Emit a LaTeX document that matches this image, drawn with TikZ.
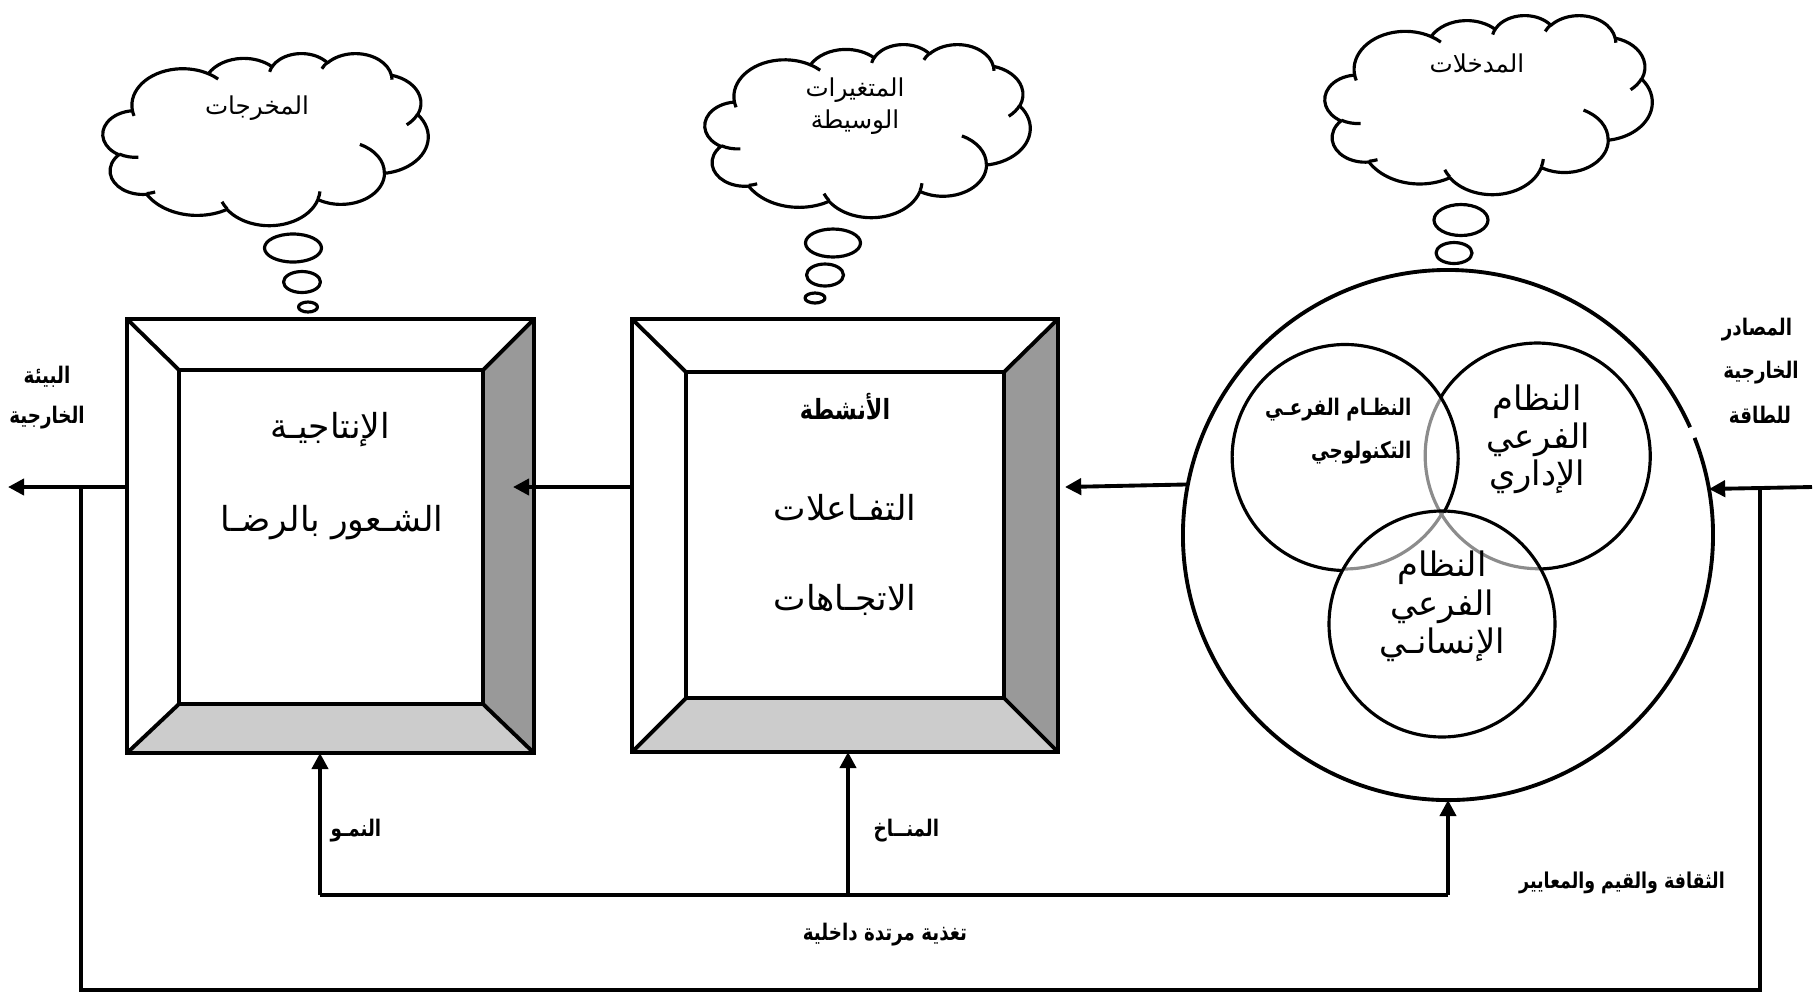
\documentclass[tikz,border=0pt]{standalone}
\usepackage{fontspec}
\usetikzlibrary{arrows.meta}
\TeXXeTstate=1
\newfontfamily\arabicfont[Script=Arabic]{DejaVu Sans}
\newfontfamily\arabicnarrow[Script=Arabic,FakeStretch=0.8]{DejaVu Sans}
\definecolor{bevdark}{RGB}{153,153,153}
\definecolor{bevlight}{RGB}{204,204,204}
\definecolor{venngray}{RGB}{140,140,140}

% one arc of a cloud outline: x radius, y radius, start angle, sweep
% (angles measured on screen, y pointing down)
\newcommand\carc[4]{arc[x radius=#1,y radius=#2,start angle={pa(#1,#2,#3)},end angle={pa(#1,#2,#3+#4)}]}

% cloud outline with its inner puff marks: left, top, width, height (px)
\newcommand\cloudat[4]{%
  \pgfmathsetmacro\cldx{#3/432*0.1}%
  \pgfmathsetmacro\cldy{#4/432*0.1}%
  \begin{scope}[shift={(#1,-#2)}, x=\cldx mm, y=-\cldy mm]
    \draw[cloudline, fill=white] (39.00,143.70)
      \carc{67.53}{91.90}{-190.4875}{123.7805}
      \carc{53.33}{72.67}{-144.1024}{89.9452}
      \carc{43.65}{59.45}{-145.8079}{99.7230}
      \carc{48.57}{65.95}{-130.9861}{117.2417}
      \carc{53.33}{72.73}{-78.7089}{109.0269}
      \carc{67.75}{92.20}{-46.2673}{130.2690}
      \carc{57.85}{78.67}{0.6250}{114.0333}
      \carc{67.52}{92.15}{22.4516}{115.1726}
      \carc{77.20}{105.43}{66.2426}{75.7110}
      \carc{43.60}{59.18}{-274.9421}{146.7356}
      \carc{43.45}{59.45}{-246.8285}{152.5189}
      -- cycle;
    \draw[cloudline]
      (46.93,261.77) \carc{43.45}{59.45}{86.7420}{26.4295}
      (69.28,348.99) \carc{43.60}{59.18}{73.6105}{11.4423}
      (164.78,390.90) \carc{67.52}{92.15}{137.6242}{14.0809}
      (288.27,347.51) \carc{67.52}{92.15}{6.4533}{15.9984}
      (341.29,229.54) \carc{57.85}{78.67}{-70.2924}{70.9174}
      (417.98,153.54) \carc{53.33}{72.73}{30.3180}{27.7515}
      (383.24,54.26) \carc{48.57}{65.95}{-13.7443}{14.8589}
      (290.78,39.52) \carc{48.57}{65.95}{-149.1815}{18.1954}
      (221.41,47.20) \carc{43.65}{59.45}{-163.4943}{17.6864}
      (140.00,51.92) \carc{67.53}{91.90}{-66.7070}{12.3194}
      (41.27,157.89) \carc{67.53}{91.90}{157.6544}{11.8582};
  \end{scope}}

% bevelled frame around the outer node #1 and inner node #1i
\newcommand\bevelframe[1]{%
  \fill[bevdark] (#1.north east) -- (#1i.north east) -- (#1i.south east) -- (#1.south east) -- cycle;
  \fill[bevlight] (#1.south west) -- (#1i.south west) -- (#1i.south east) -- (#1.south east) -- cycle;
  \draw[heavy] (#1.north west) -- (#1i.north west) (#1.north east) -- (#1i.north east)
               (#1.south west) -- (#1i.south west) (#1.south east) -- (#1i.south east);
  \draw[heavy] (#1.north west) rectangle (#1.south east);
  \draw[heavy] (#1i.north west) rectangle (#1i.south east);}

\begin{document}
\begin{tikzpicture}[x=0.01cm, y=0.01cm,
  declare function={pa(\pA,\pB,\pT)=\pT+(atan2(\pA*sin(\pT),\pB*cos(\pT))-\pT)-360*round((atan2(\pA*sin(\pT),\pB*cos(\pT))-\pT)/360);},
  heavy/.style={line width=1.1pt},
  conn/.style={line width=1.1pt, -{Triangle[length=4.6pt,width=4.6pt]}},
  cloudline/.style={line width=0.9pt, line join=round},
  venn/.style={line width=0.9pt},
  frame/.style={inner sep=0pt, outer sep=0pt, draw=none},
  atxt/.style={inner sep=0pt, font=\arabicfont\fontsize{#1}{#1}\selectfont},
  btxt/.style={inner sep=0pt, font=\arabicnarrow\bfseries\fontsize{#1}{#1}\selectfont}]

\useasboundingbox (0,0) rectangle (1814,-993);

% ---------- thought clouds ----------
\cloudat{103}{53}{325}{172}
\draw[cloudline] (293,-248) ellipse[x radius=28.5, y radius=14];
\draw[cloudline] (302,-282) ellipse[x radius=18.5, y radius=10.5];
\draw[cloudline] (308,-307) ellipse[x radius=9.5, y radius=5];
\node[atxt=7] (cout) at (257,-108) {\beginR المخرجات\endR};

\cloudat{705}{44}{325}{173}
\draw[cloudline] (833,-243) ellipse[x radius=27.5, y radius=14];
\draw[cloudline] (825,-275) ellipse[x radius=18.5, y radius=11];
\draw[cloudline] (815,-298) ellipse[x radius=10, y radius=5];
\node[atxt=7] (cmid1) at (855,-90) {\beginR المتغيرات\endR};
\node[atxt=7] (cmid2) at (855,-122) {\beginR الوسيطة\endR};

\cloudat{1325}{15}{327}{179}
\draw[cloudline] (1461,-220) ellipse[x radius=27, y radius=15.5];
\draw[cloudline] (1454,-253) ellipse[x radius=18, y radius=10.5];
\node[atxt=7] (cin) at (1477,-63) {\beginR المدخلات\endR};

% ---------- bevelled boxes ----------
\node[frame, minimum width=407*0.01cm, minimum height=434*0.01cm] (b1) at (330.5,-536) {};
\node[frame, minimum width=304*0.01cm, minimum height=334*0.01cm] (b1i) at (331,-537) {};
\bevelframe{b1}
\node[atxt=9.8] (b1a) at (330,-430) {\beginR الإنتاجيـة\endR};
\node[atxt=9.8] (b1b) at (332,-523) {\beginR الشـعور بالرضـا\endR};

\node[frame, minimum width=426*0.01cm, minimum height=433*0.01cm] (b2) at (845,-535.5) {};
\node[frame, minimum width=318*0.01cm, minimum height=326*0.01cm] (b2i) at (845,-535) {};
\bevelframe{b2}
\node[btxt=7.9] (b2a) at (845,-407) {\beginR الأنشطة\endR};
\node[atxt=9.8] (b2b) at (845,-508) {\beginR التفـاعلات\endR};
\node[atxt=9.8] (b2c) at (845,-600) {\beginR الاتجـاهات\endR};

% ---------- system circle with three subsystems ----------
\node[frame, circle, minimum size=530*0.01cm] (sys) at (1448,-535) {};
\draw[heavy] (sys.24) arc[start angle=24, end angle=381.5, radius=265];

\node[frame, circle, minimum size=226*0.01cm] (tech) at (1346,-456) {};
\node[frame, circle, minimum size=226*0.01cm] (admin) at (1538,-456) {};
\node[frame, circle, minimum size=226*0.01cm] (human) at (1442,-624) {};
\draw[venn, venngray] (tech.268.63) arc[start angle=268.63, end angle=330.87, radius=113];
\draw[venn, venngray] (admin.148.17) arc[start angle=148.17, end angle=271.37, radius=113];
\draw[venn] (tech.330.87) arc[start angle=-29.13, end angle=268.63, radius=113];
\draw[venn] (admin.271.37) arc[start angle=-88.63, end angle=148.17, radius=113];
\draw[venn] (human) circle[radius=113];

\node[btxt=6.5, anchor=east] (tech1) at (1412,-410) {\beginR النظـام الفرعـي\endR};
\node[btxt=6.5, anchor=east] (tech2) at (1412,-453) {\beginR التكنولوجي\endR};
\node[atxt=9.6] (adm1) at (1537,-402) {\beginR النظام\endR};
\node[atxt=9.6] (adm2) at (1538,-440) {\beginR الفرعي\endR};
\node[atxt=9.6] (adm3) at (1537,-477) {\beginR الإداري\endR};
\node[atxt=9.6] (hum1) at (1442,-568) {\beginR النظام\endR};
\node[atxt=9.6] (hum2) at (1442,-607) {\beginR الفرعي\endR};
\node[atxt=9.6] (hum3) at (1442,-645) {\beginR الإنسانـي\endR};

% ---------- main flow ----------
\coordinate (yl) at (0,-487);
\coordinate (srcR) at (1812,-487);
\coordinate (tip2) at (1065,-487);
\coordinate (tip1) at (513,-487);
\coordinate (envL) at (8,-487);
\draw[conn] (srcR) -- (sys.10.44);
\draw[conn] (sys.169.56) -- (tip2);
\draw[conn] (b2.west |- yl) -- (tip1);
\draw[conn] (b1.west |- yl) -- (envL);

% outer feedback loop
\coordinate (loopL) at (81,-487);
\coordinate (loopR) at (1760,-487);
\coordinate (loopB) at (0,-990);
\draw[heavy] (loopL) -- (loopL |- loopB) -- (loopR |- loopB) -- (loopR);

% internal feedback
\coordinate (fbL) at (320,-895);
\coordinate (fbM) at (848,-895);
\coordinate (fbR) at (1448,-895);
\draw[heavy] (fbL) -- (fbR);
\draw[conn] (fbL) -- (fbL |- b1.south);
\draw[conn] (fbM) -- (fbM |- b2.south);
\draw[conn] (fbR) -- (sys.south);

% ---------- labels ----------
\node[btxt=6.5] (env1) at (47,-377) {\beginR البيئة\endR};
\node[btxt=6.5] (env2) at (47,-418) {\beginR الخارجية\endR};
\node[btxt=6.5] (src1) at (1757,-330) {\beginR المصادر\endR};
\node[btxt=6.5] (src2) at (1761,-373) {\beginR الخارجية\endR};
\node[btxt=6.5] (src3) at (1760,-415) {\beginR للطاقة\endR};
\node[btxt=6.5, anchor=west] (grow) at (330,-831) {\beginR النمـو\endR};
\node[btxt=6.5, anchor=west] (clim) at (873,-831) {\beginR المنــاخ\endR};
\node[btxt=6.5] (fbtx) at (885,-935) {\beginR تغذية مرتدة داخلية\endR};
\node[btxt=6.2] (cult) at (1622,-883) {\beginR الثقافة والقيم والمعايير\endR};
\end{tikzpicture}
\end{document}
